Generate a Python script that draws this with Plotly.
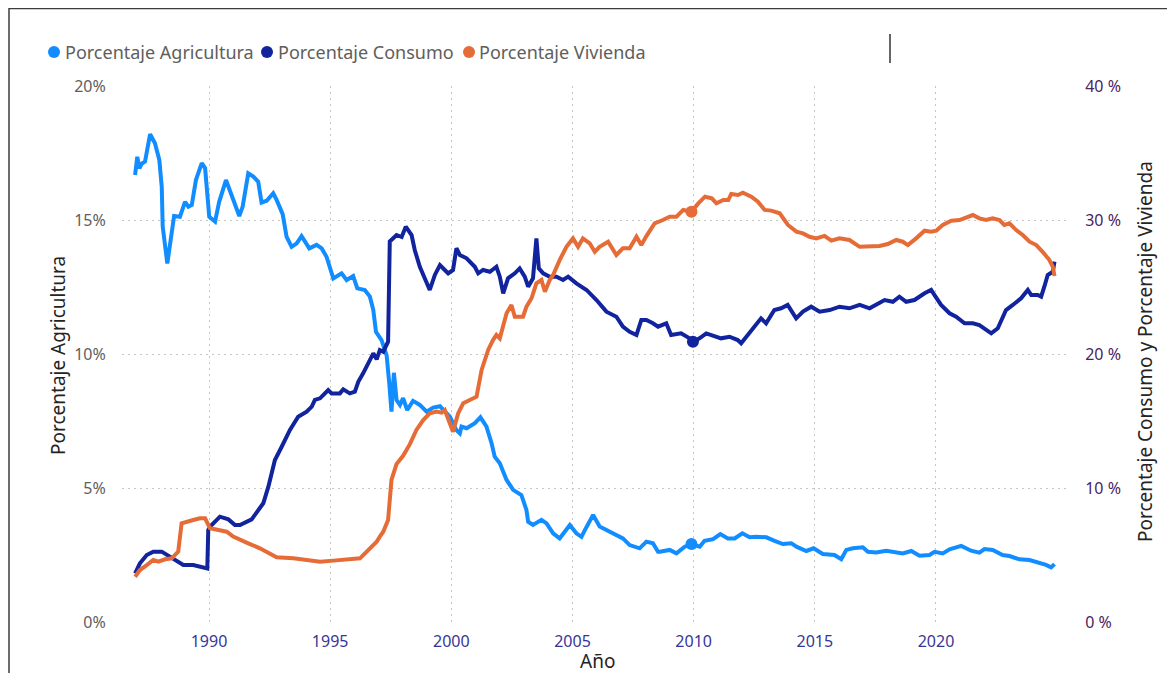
import plotly.graph_objects as go
import numpy as np

# ---------------- data ----------------
series_names = ["Porcentaje Agricultura", "Porcentaje Consumo", "Porcentaje Vivienda"]
series_colors = ["#118DFF", "#12239E", "#E66C37"]
x_tick_vals = [1990, 1995, 2000, 2005, 2010, 2015, 2020]
left_tick_vals = [0, 5, 10, 15, 20]
left_tick_text = ["0%", "5%", "10%", "15%", "20%"]
right_tick_vals = [0, 10, 20, 30, 40]
right_tick_text = ["0 %", "10 %", "20 %", "30 %", "40 %"]

agri_year = [1986.95, 1987.04, 1987.13, 1987.22, 1987.36, 1987.57, 1987.77, 1987.95, 1988.05, 1988.09,
             1988.28, 1988.39, 1988.56, 1988.80, 1989.01, 1989.15, 1989.29, 1989.46, 1989.70, 1989.84,
             1990.01, 1990.25, 1990.42, 1990.70, 1990.94, 1991.07, 1991.25, 1991.39, 1991.62, 1991.83,
             1992.03, 1992.17, 1992.38, 1992.65, 1992.79, 1993.04, 1993.20, 1993.41, 1993.62, 1993.82,
             1994.14, 1994.44, 1994.65, 1994.85, 1995.13, 1995.47, 1995.68, 1995.95, 1996.12, 1996.43,
             1996.64, 1996.78, 1996.89, 1997.12, 1997.33, 1997.44, 1997.53, 1997.63, 1997.74, 1997.88,
             1998.01, 1998.18, 1998.42, 1998.70, 1998.98, 1999.25, 1999.53, 1999.80, 1999.94, 2000.07,
             2000.21, 2000.35, 2000.42, 2000.63, 2000.97, 2001.20, 2001.45, 2001.66, 2001.79, 2002.00,
             2002.28, 2002.55, 2002.89, 2003.10, 2003.17, 2003.37, 2003.72, 2003.93, 2004.20, 2004.47,
             2004.89, 2005.16, 2005.37, 2005.51, 2005.85, 2006.12, 2006.67, 2007.08, 2007.36, 2007.77,
             2008.05, 2008.32, 2008.53, 2008.60, 2009.01, 2009.29, 2009.63, 2009.91, 2010.25, 2010.45,
             2010.80, 2011.10, 2011.41, 2011.69, 2012.01, 2012.31, 2012.59, 2013.00, 2013.34, 2013.68,
             2014.03, 2014.24, 2014.65, 2014.95, 2015.33, 2015.81, 2016.09, 2016.30, 2016.57, 2016.98,
             2017.19, 2017.53, 2017.95, 2018.22, 2018.63, 2018.98, 2019.32, 2019.73, 2019.94, 2020.28,
             2020.56, 2021.04, 2021.45, 2021.79, 2022.00, 2022.34, 2022.75, 2023.03, 2023.44, 2023.86,
             2024.27, 2024.54, 2024.75, 2024.89]
agri_val = [16.68, 17.36, 16.93, 17.10, 17.18, 18.20, 17.86, 17.24, 16.24, 14.75,
            13.38, 14.13, 15.15, 15.12, 15.68, 15.50, 15.56, 16.49, 17.12, 16.93,
            15.12, 14.94, 15.68, 16.49, 15.87, 15.62, 15.15, 15.50, 16.74, 16.62,
            16.43, 15.65, 15.72, 16.00, 15.75, 15.22, 14.38, 14.00, 14.13, 14.40,
            13.94, 14.07, 13.94, 13.63, 12.82, 13.01, 12.76, 12.91, 12.45, 12.39,
            12.14, 11.64, 10.83, 10.52, 9.95, 8.90, 7.85, 9.30, 8.28, 8.10,
            8.35, 7.91, 8.25, 8.10, 7.85, 8.00, 8.05, 7.79, 7.66, 7.42,
            7.16, 7.04, 7.29, 7.23, 7.42, 7.64, 7.29, 6.67, 6.17, 5.92,
            5.30, 4.93, 4.74, 4.18, 3.74, 3.62, 3.81, 3.68, 3.31, 3.12,
            3.62, 3.31, 3.18, 3.43, 3.99, 3.56, 3.31, 3.12, 2.87, 2.75,
            3.00, 2.94, 2.62, 2.62, 2.69, 2.56, 2.81, 2.91, 2.81, 3.03,
            3.09, 3.28, 3.12, 3.12, 3.31, 3.16, 3.18, 3.16, 3.03, 2.91,
            2.94, 2.81, 2.65, 2.75, 2.54, 2.50, 2.34, 2.69, 2.75, 2.79,
            2.62, 2.59, 2.66, 2.62, 2.56, 2.65, 2.47, 2.50, 2.62, 2.56,
            2.71, 2.84, 2.66, 2.59, 2.72, 2.69, 2.50, 2.46, 2.34, 2.31,
            2.21, 2.13, 2.04, 2.16]

cons_year = [1986.95, 1987.15, 1987.43, 1987.70, 1988.05, 1988.26, 1988.53, 1988.73, 1988.94, 1989.35,
             1989.63, 1989.93, 1989.97, 1990.11, 1990.45, 1990.80, 1991.07, 1991.28, 1991.76, 1991.97,
             1992.24, 1992.45, 1992.72, 1993.00, 1993.34, 1993.68, 1994.03, 1994.24, 1994.37, 1994.58,
             1994.92, 1995.06, 1995.40, 1995.54, 1995.81, 1996.02, 1996.16, 1996.36, 1996.50, 1996.78,
             1996.92, 1997.05, 1997.19, 1997.33, 1997.39, 1997.46, 1997.60, 1997.74, 1997.95, 1998.12,
             1998.36, 1998.49, 1998.70, 1998.91, 1999.11, 1999.32, 1999.53, 1999.73, 1999.87, 2000.07,
             2000.21, 2000.35, 2000.63, 2000.97, 2001.11, 2001.31, 2001.59, 2001.86, 2002.00, 2002.14,
             2002.34, 2002.62, 2002.82, 2003.03, 2003.17, 2003.37, 2003.51, 2003.61, 2003.79, 2004.06,
             2004.34, 2004.61, 2004.82, 2005.16, 2005.58, 2005.99, 2006.40, 2006.81, 2007.08, 2007.36,
             2007.64, 2007.84, 2008.05, 2008.32, 2008.53, 2008.87, 2009.07, 2009.48, 2009.83, 2009.97,
             2010.24, 2010.52, 2010.87, 2011.13, 2011.48, 2011.82, 2011.96, 2012.37, 2012.78, 2012.99,
             2013.33, 2013.61, 2013.88, 2014.23, 2014.51, 2014.85, 2015.20, 2015.61, 2016.02, 2016.43,
             2016.85, 2017.26, 2017.53, 2017.88, 2018.22, 2018.49, 2018.77, 2019.11, 2019.53, 2019.80,
             2019.94, 2020.21, 2020.56, 2020.83, 2021.18, 2021.52, 2021.79, 2022.07, 2022.28, 2022.55,
             2022.89, 2023.17, 2023.51, 2023.79, 2023.93, 2024.20, 2024.34, 2024.47, 2024.61, 2024.82,
             2024.89]
cons_val = [3.63, 4.38, 5.00, 5.25, 5.25, 5.00, 4.75, 4.50, 4.25, 4.25,
            4.13, 4.00, 6.87, 7.24, 7.86, 7.66, 7.24, 7.24, 7.66, 8.23,
            8.86, 10.10, 12.09, 13.08, 14.33, 15.32, 15.70, 16.07, 16.57, 16.69,
            17.31, 17.06, 17.06, 17.36, 17.06, 17.19, 17.93, 18.56, 19.05, 20.05,
            19.60, 20.30, 20.17, 20.80, 20.92, 28.40, 28.63, 28.88, 28.73, 29.50,
            28.88, 27.76, 26.51, 25.65, 24.78, 25.90, 26.64, 26.27, 26.02, 26.27,
            27.89, 27.39, 27.14, 26.51, 26.02, 26.27, 26.14, 26.51, 25.77, 24.53,
            25.65, 26.02, 26.39, 25.77, 25.02, 25.65, 28.63, 26.39, 26.02, 25.77,
            25.77, 25.52, 25.77, 25.27, 24.78, 24.03, 23.16, 22.78, 22.04, 21.66,
            21.42, 22.54, 22.54, 22.29, 22.04, 22.29, 21.42, 21.54, 21.17, 20.92,
            21.17, 21.54, 21.29, 21.17, 21.29, 21.04, 20.80, 21.79, 22.66, 22.29,
            23.28, 23.41, 23.66, 22.66, 23.16, 23.53, 23.16, 23.28, 23.53, 23.41,
            23.66, 23.41, 23.66, 24.03, 23.90, 24.28, 23.90, 24.03, 24.53, 24.78,
            24.40, 23.66, 23.04, 22.78, 22.29, 22.29, 22.16, 21.79, 21.54, 21.92,
            23.28, 23.66, 24.16, 24.78, 24.40, 24.40, 24.28, 25.02, 25.90, 26.14,
            26.89]

viv_year = [1986.95, 1987.15, 1987.43, 1987.70, 1987.91, 1988.19, 1988.46, 1988.73, 1988.87, 1989.08,
            1989.35, 1989.63, 1989.84, 1990.04, 1990.45, 1990.73, 1991.00, 1991.28, 1991.62, 1992.10,
            1992.45, 1992.79, 1993.48, 1994.03, 1994.58, 1995.13, 1995.68, 1996.23, 1996.57, 1996.92,
            1997.05, 1997.19, 1997.39, 1997.46, 1997.53, 1997.74, 1998.01, 1998.29, 1998.56, 1998.84,
            1999.11, 1999.39, 1999.60, 1999.73, 1999.87, 2000.07, 2000.28, 2000.49, 2000.76, 2001.04,
            2001.25, 2001.52, 2001.72, 2001.86, 2002.00, 2002.28, 2002.48, 2002.62, 2002.96, 2003.10,
            2003.31, 2003.51, 2003.72, 2003.86, 2004.06, 2004.20, 2004.47, 2004.75, 2005.02, 2005.23,
            2005.43, 2005.71, 2005.92, 2006.12, 2006.47, 2006.81, 2007.08, 2007.36, 2007.64, 2007.84,
            2008.05, 2008.39, 2008.73, 2009.01, 2009.29, 2009.57, 2009.91, 2010.19, 2010.47, 2010.75,
            2010.94, 2011.22, 2011.43, 2011.55, 2011.83, 2012.03, 2012.38, 2012.65, 2012.93, 2013.20,
            2013.55, 2013.89, 2014.24, 2014.51, 2014.78, 2015.06, 2015.40, 2015.68, 2016.02, 2016.43,
            2016.85, 2017.26, 2017.67, 2018.01, 2018.36, 2018.63, 2018.84, 2019.18, 2019.53, 2019.80,
            2020.01, 2020.28, 2020.63, 2020.97, 2021.31, 2021.52, 2021.79, 2022.07, 2022.34, 2022.62,
            2022.82, 2023.03, 2023.31, 2023.58, 2023.86, 2024.14, 2024.40, 2024.68, 2024.82, 2024.89]
viv_val = [3.38, 3.88, 4.25, 4.63, 4.50, 4.68, 4.75, 5.25, 7.36, 7.49,
           7.61, 7.74, 7.74, 6.99, 6.87, 6.74, 6.37, 6.12, 5.87, 5.50,
           5.13, 4.83, 4.75, 4.63, 4.50, 4.58, 4.68, 4.75, 5.37, 5.99,
           6.37, 6.74, 7.61, 9.10, 10.60, 11.80, 12.40, 13.27, 14.33, 15.07,
           15.57, 15.70, 15.62, 15.82, 15.10, 14.20, 15.57, 16.32, 16.57, 16.81,
           18.81, 20.30, 21.04, 21.42, 21.17, 23.04, 23.66, 22.78, 22.78, 23.53,
           24.16, 25.27, 25.52, 24.65, 25.52, 25.90, 27.01, 28.00, 28.63, 28.00,
           28.63, 28.26, 27.63, 28.00, 28.38, 27.39, 27.89, 27.89, 28.75, 28.13,
           28.80, 29.75, 30.00, 30.25, 30.25, 30.75, 30.62, 31.24, 31.74, 31.62,
           31.24, 31.49, 31.49, 31.94, 31.87, 32.04, 31.74, 31.37, 30.75, 30.70,
           30.50, 29.63, 29.13, 29.00, 28.75, 28.63, 28.81, 28.46, 28.63, 28.51,
           28.00, 28.06, 28.06, 28.21, 28.51, 28.38, 28.13, 28.63, 29.20, 29.13,
           29.20, 29.63, 29.95, 30.00, 30.25, 30.37, 30.12, 30.00, 30.12, 30.00,
           29.63, 29.75, 29.25, 28.88, 28.38, 28.13, 27.63, 27.01, 26.51, 25.82]

highlight_year = 2010

# ---------------- layout geometry ----------------
# The page adds an 8px body margin, so positions below are page pixels minus OFF.
OFF = 8
W, H = 1175 - OFF, 673 - OFF
PL, PR, PT, PB = 122 - OFF, 1070 - OFF, 86 - OFF, 622 - OFF
pw, ph = PR - PL, PB - PT


def px(x):
    """page pixel x -> paper x"""
    return (x - OFF - PL) / pw


def py(y):
    """page pixel y -> paper y"""
    return (PB - (y - OFF)) / ph


FONT = "Segoe UI, Noto Sans, sans-serif"

fig = go.Figure()

all_x = [agri_year, cons_year, viv_year]
all_y = [agri_val, cons_val, viv_val]
axes = ["y", "y2", "y2"]

for name, col, xs, ys, ax in zip(series_names, series_colors, all_x, all_y, axes):
    fig.add_trace(go.Scatter(x=xs, y=ys, mode="lines", name=name, yaxis=ax,
                             line=dict(color=col, width=4), showlegend=False,
                             hoverinfo="skip"))

for name, col, xs, ys, ax in zip(series_names, series_colors, all_x, all_y, axes):
    i = int(np.argmin(np.abs(np.array(xs) - highlight_year)))
    fig.add_trace(go.Scatter(x=[xs[i]], y=[ys[i]], mode="markers", yaxis=ax,
                             marker=dict(color=col, size=12), showlegend=False,
                             hoverinfo="skip"))

grid_color = "#C8C6C4"

fig.update_layout(
    width=W, height=H,
    margin=dict(l=PL, r=W - PR, t=PT, b=H - PB, autoexpand=False),
    paper_bgcolor="white", plot_bgcolor="white",
    showlegend=False,
    font=dict(family=FONT),
    xaxis=dict(range=[1986.41, 2025.53], tickvals=x_tick_vals,
               ticktext=[str(v) for v in x_tick_vals],
               showgrid=True, gridcolor=grid_color, griddash="2px,4px", gridwidth=1,
               zeroline=False, showline=False,
               ticks="outside", ticklen=5, tickcolor="rgba(0,0,0,0)",
               tickfont=dict(size=16, color="#36369A", family=FONT), automargin=False),
    yaxis=dict(range=[0, 20], tickvals=left_tick_vals, ticktext=left_tick_text,
               showgrid=True, gridcolor=grid_color, griddash="2px,4px", gridwidth=1,
               zeroline=False, showline=False,
               ticks="outside", ticklen=12, tickcolor="rgba(0,0,0,0)",
               tickfont=dict(size=16, color="#605E5C", family=FONT), automargin=False),
    yaxis2=dict(range=[0, 40], tickvals=right_tick_vals, ticktext=right_tick_text,
                overlaying="y", side="right", showgrid=False,
                zeroline=False, showline=False,
                ticks="outside", ticklen=11, tickcolor="rgba(0,0,0,0)",
                tickfont=dict(size=16, color="#4B2363", family=FONT), automargin=False),
)

# manual legend (Power BI style)
legend_circle_x = [54, 267, 469]
legend_text_x = [63, 276, 477]
legend_y = 52
shapes = []
annotations = []
for name, col, cx, tx in zip(series_names, series_colors, legend_circle_x, legend_text_x):
    shapes.append(dict(type="circle", xref="paper", yref="paper",
                       xsizemode="pixel", ysizemode="pixel",
                       xanchor=px(cx), yanchor=py(legend_y),
                       x0=-6, x1=6, y0=-6, y1=6,
                       fillcolor=col, line=dict(width=0)))
    annotations.append(dict(text=name, xref="paper", yref="paper",
                            x=px(tx), y=py(legend_y), xanchor="left", yanchor="middle",
                            showarrow=False,
                            font=dict(size=18, color="#605E5C", family=FONT)))

# axis titles
annotations.append(dict(text="Porcentaje Agricultura", xref="paper", yref="paper",
                        x=px(58), y=py(356), textangle=-90, showarrow=False,
                        xanchor="center", yanchor="middle",
                        font=dict(size=19, color="#252423", family=FONT)))
annotations.append(dict(text="Porcentaje Consumo y Porcentaje Vivienda", xref="paper", yref="paper",
                        x=px(1145), y=py(352), textangle=-90, showarrow=False,
                        xanchor="center", yanchor="middle",
                        font=dict(size=19, color="#252423", family=FONT)))
annotations.append(dict(text="Año", xref="paper", yref="paper",
                        x=px(597), y=py(661), showarrow=False,
                        xanchor="center", yanchor="middle",
                        font=dict(size=19, color="#252423", family=FONT)))

# frame border and cursor mark
shapes.append(dict(type="path", xref="paper", yref="paper",
                   path=f"M {px(9)},{py(720)} L {px(9)},{py(8.5)} L {px(1190)},{py(8.5)}",
                   line=dict(color="#3C3C3C", width=1.5)))
shapes.append(dict(type="line", xref="paper", yref="paper",
                   x0=px(890), x1=px(890), y0=py(34), y1=py(63),
                   line=dict(color="#333333", width=1.5)))

fig.update_layout(shapes=shapes, annotations=annotations)

fig.write_html("out.html")
